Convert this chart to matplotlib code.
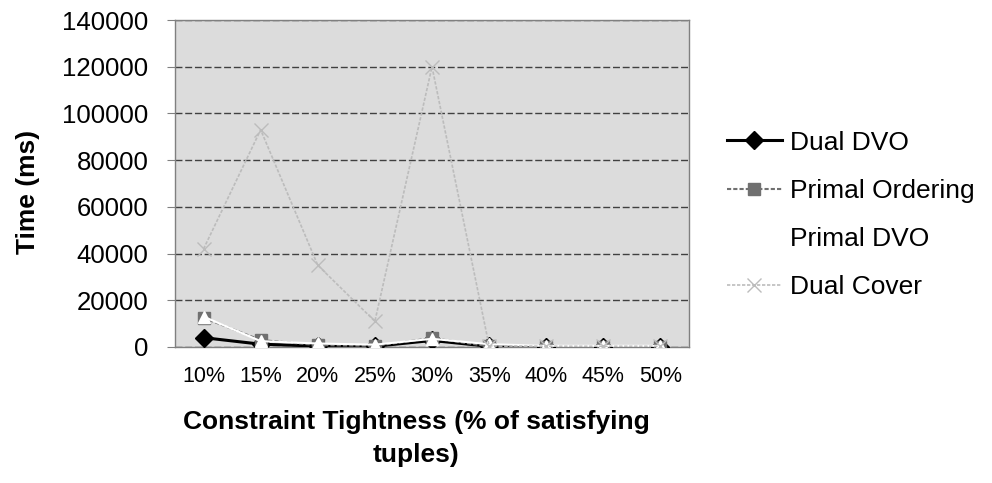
import matplotlib
matplotlib.use("Agg")
import matplotlib.pyplot as plt
import numpy as np

plt.rcParams['font.family'] = ['Liberation Sans', 'DejaVu Sans']
plt.rcParams['hatch.color'] = '#a8a8a8'
plt.rcParams['hatch.linewidth'] = 0.8

# Run times (ms) per constraint tightness
tightness = ["10%", "15%", "20%", "25%", "30%", "35%", "40%", "45%", "50%"]
dual_dvo = [4000, 1200, 400, 300, 2800, 300, 200, 200, 200]
primal_ordering = [12500, 3000, 800, 500, 3800, 300, 200, 200, 200]
primal_dvo = [13000, 2500, 1500, 1000, 3500, 1200, 500, 500, 500]
dual_cover = [42000, 93000, 35000, 11000, 120000, 500, 300, 300, 300]

W, H = 992, 483
fig = plt.figure(figsize=(W / 100, H / 100), dpi=100)
ax = fig.add_axes([175 / W, 1 - 347 / H, (689 - 175) / W, (347 - 20) / H])

x = np.arange(len(tightness))
ax.plot(x, dual_dvo, color='black', lw=2.2, marker='D', ms=9,
        label='Dual DVO', zorder=3)
ax.plot(x, primal_ordering, color='#707070', lw=1.5, ls=(0, (2, 1)),
        marker='s', ms=9, label='Primal Ordering', zorder=3)
ax.plot(x, primal_dvo, color='white', lw=1.5, marker='^', ms=9,
        label='Primal DVO', zorder=3)
ax.plot(x, dual_cover, color='#bcbcbc', lw=1.2, ls=(0, (2, 1)),
        marker='x', ms=10, mew=1, label='Dual Cover', zorder=3)

ax.set_xlim(-0.5, len(x) - 0.5)
ax.set_ylim(0, 140000)
ax.set_yticks(np.arange(0, 140001, 20000))
ax.set_xticks(x, tightness)

# grey stippled plot area with dashed gridlines
ax.set_facecolor('#dcdcdc')
ax.patch.set_hatch('....')
ax.grid(axis='y', color='#404040', lw=1, ls=(0, (5, 2)))
ax.set_axisbelow(True)
for s in ax.spines.values():
    s.set_color('#808080')
    s.set_linewidth(1)

ax.tick_params(axis='y', length=6, color='#808080', pad=13, labelsize=18.5)
ax.tick_params(axis='x', length=0, pad=14, labelsize=15.5)

fig.text(28 / W, 1 - 192 / H, 'Time (ms)', rotation=90, fontsize=19,
         fontweight='bold', ha='center', va='center')
fig.text(416 / W, 1 - 410 / H, 'Constraint Tightness (% of satisfying\ntuples)',
         fontsize=19, fontweight='bold', ha='center', va='top', linespacing=1.45)

fig.legend(loc='center left', bbox_to_anchor=(716 / W, 1 - 215 / H),
           frameon=False, fontsize=19, handlelength=2.1, handletextpad=0.3,
           labelspacing=0.92, borderaxespad=0)

fig.savefig('out.png', dpi=100)
